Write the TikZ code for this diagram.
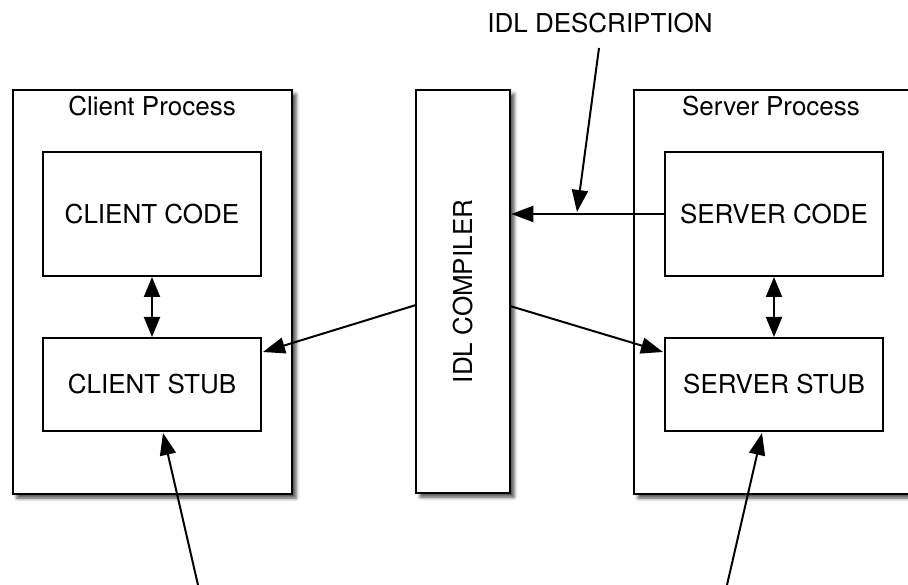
\documentclass[tikz,border=0pt]{standalone}
\usepackage{fontspec}
\setmainfont{TeX Gyre Heros}
\usetikzlibrary{arrows.meta,shadows.blur}
\begin{document}
\begin{tikzpicture}[x=1pt,y=-1pt,
  every node/.style={font=\fontsize{26}{30}\selectfont, inner sep=0pt},
  shade box/.style={blur shadow={shadow xshift=4pt, shadow yshift=-4pt,
      shadow blur radius=3.5pt, shadow opacity=70}},
  process/.style={draw, line width=2.6pt, fill=white, shade box,
      minimum width=279pt, minimum height=404pt},
  compiler/.style={draw, line width=2.6pt, fill=white, shade box,
      minimum width=94pt, minimum height=403pt},
  part/.style={draw, line width=2pt, fill=white, minimum width=218pt},
  conn/.style={line width=2pt, -{Triangle[length=22pt,width=16pt]}},
  both/.style={line width=2pt, {Triangle[length=20pt,width=16pt]}-{Triangle[length=20pt,width=16pt]}}]

\useasboundingbox (0,0) rectangle (908,585);
\clip (0,0) rectangle (908,585);

% process frames and the compiler
\node[process] (client) at (152.5,292) {};
\node[process] (server) at (773.5,292) {};
\node[compiler] (comp) at (463,291.5) {\rotatebox{90}{IDL COMPILER}};

\node (clientlbl) at (152,106) {Client Process};
\node (serverlbl) at (771,106) {Server Process};

% inner components
\node[part, minimum height=124pt] (ccode) at (152,214) {CLIENT CODE};
\node[part, minimum height=93pt]  (cstub) at (152,384.5) {CLIENT STUB};
\node[part, minimum height=124pt] (scode) at (774,214) {SERVER CODE};
\node[part, minimum height=93pt]  (sstub) at (774,384.5) {SERVER STUB};

\node (idl) at (600,23) {IDL DESCRIPTION};

% connector end points
\coordinate (idlstart) at (599,48);
\coordinate (idlhit) at (577,212);
\coordinate (compL) at (416,305);
\coordinate (compR) at (510,306);
\coordinate (cstubin) at (263,352);
\coordinate (sstubin) at (663,352);
\coordinate (callL) at (198,585);
\coordinate (callR) at (727,585);
\coordinate (cstubbot) at (163,433);
\coordinate (sstubbot) at (762,433);

% connectors
\draw[both] (ccode.south) -- (cstub.north);
\draw[both] (scode.south) -- (sstub.north);
\draw[conn] (scode.west) -- (scode.west -| comp.east);
\draw[conn] (idlstart) -- (idlhit);
\draw[conn] (compL) -- (cstubin);
\draw[conn] (compR) -- (sstubin);
\draw[conn] (callL) -- (cstubbot);
\draw[conn] (callR) -- (sstubbot);
\end{tikzpicture}
\end{document}
